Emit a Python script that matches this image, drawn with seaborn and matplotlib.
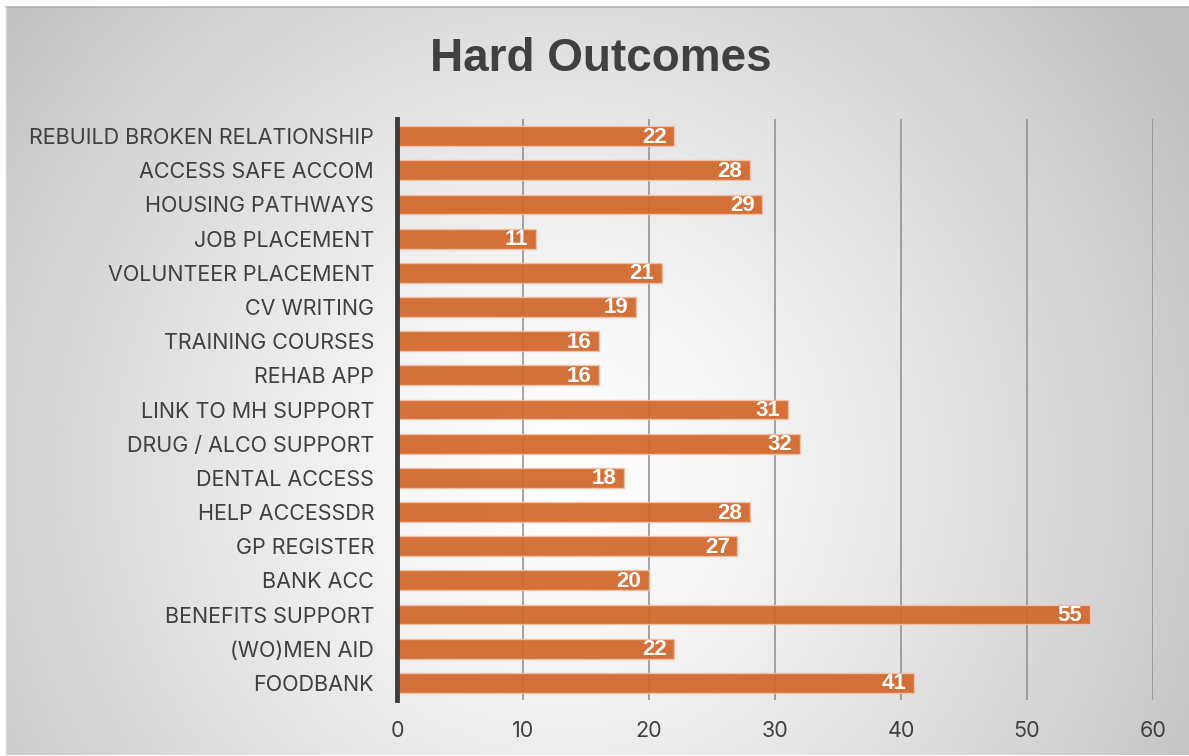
import numpy as np
import pandas as pd
import matplotlib
matplotlib.use("Agg")
import matplotlib.pyplot as plt
import seaborn as sns

# Outcome categories (top to bottom) and counts
categories = [
    "REBUILD BROKEN RELATIONSHIP", "ACCESS SAFE ACCOM", "HOUSING PATHWAYS",
    "JOB PLACEMENT", "VOLUNTEER PLACEMENT", "CV WRITING", "TRAINING COURSES",
    "REHAB APP", "LINK TO MH SUPPORT", "DRUG / ALCO SUPPORT", "DENTAL ACCESS",
    "HELP ACCESSDR", "GP REGISTER", "BANK ACC", "BENEFITS SUPPORT",
    "(WO)MEN AID", "FOODBANK",
]
counts = [22, 28, 29, 11, 21, 19, 16, 16, 31, 32, 18, 28, 27, 20, 55, 22, 41]
x_ticks = [0, 10, 20, 30, 40, 50, 60]

df = pd.DataFrame({"outcome": categories, "count": counts})

sns.set_theme(style="white")
plt.rcParams["font.family"] = ["Inter", "DejaVu Sans"]

W, H = 1189, 756
fig = plt.figure(figsize=(W / 100, H / 100), dpi=100)
fig.patch.set_facecolor("white")

# Radial grey-to-white backdrop for the chart panel
bg = fig.add_axes([6 / W, 1 / H, (W - 6) / W, (H - 8) / H])
bg.set_axis_off()
ny, nx = 300, 480
yy, xx = np.mgrid[0:ny, 0:nx]
cx, cy = 0.47 * nx, 0.62 * ny
r = np.sqrt(((xx - cx) / nx) ** 2 + ((yy - cy) / ny * 0.62) ** 2)
r = np.clip(r / 0.62, 0, 1)
shade = 1.0 - 0.25 * r ** 1.3
img = np.dstack([shade, shade, shade])
bg.imshow(img, aspect="auto", extent=[0, 1, 0, 1], origin="upper", interpolation="bilinear")
bg.set_xlim(0, 1)
bg.set_ylim(0, 1)
bg.plot([0, 1], [1, 1], color="#b0b0b0", lw=1.2, transform=bg.transAxes, clip_on=False)
bg.plot([0, 0], [0, 1], color="#d8d8d8", lw=1.0, transform=bg.transAxes, clip_on=False)

ax = fig.add_axes([397 / W, (H - 700) / H, (1153 - 397) / W, (700 - 119) / H])
ax.patch.set_alpha(0)

sns.barplot(data=df, x="count", y="outcome", orient="h", color="#D2672B",
            width=0.58, saturation=1, alpha=0.93, edgecolor="#F2C2A6",
            linewidth=1.0, ax=ax, zorder=3)

ax.set_xlim(0, 60)
ax.set_ylim(len(categories) - 0.5, -0.5)
ax.set_xticks(x_ticks)
ax.set_xticklabels([str(t) for t in x_ticks])
ax.xaxis.grid(True, color="#8c8c8c", linewidth=1.1, zorder=0)
ax.set_axisbelow(True)
ax.yaxis.grid(False)
for s in ["top", "right", "bottom"]:
    ax.spines[s].set_visible(False)
ax.spines["left"].set_color("#3d3d3d")
ax.spines["left"].set_linewidth(3.5)
ax.spines["left"].set_zorder(5)
ax.set_xlabel("")
ax.set_ylabel("")
ax.tick_params(axis="x", length=0, pad=15, labelsize=15.5, labelcolor="#404040")
ax.tick_params(axis="y", length=0, pad=16.5, labelsize=15.5, labelcolor="#404040")

for i, v in enumerate(counts):
    ax.text(v - 0.6, i + 0.03, str(v), ha="right", va="center", color="white",
            fontsize=16, fontweight="bold", family=["Liberation Sans", "DejaVu Sans"],
            zorder=6)

fig.text(601 / W, 1 - 59 / H, "Hard Outcomes", ha="center", va="center",
         fontsize=33, fontweight="bold", color="#404040",
         family=["Liberation Sans", "DejaVu Sans"])

fig.savefig("out.png", dpi=100)
